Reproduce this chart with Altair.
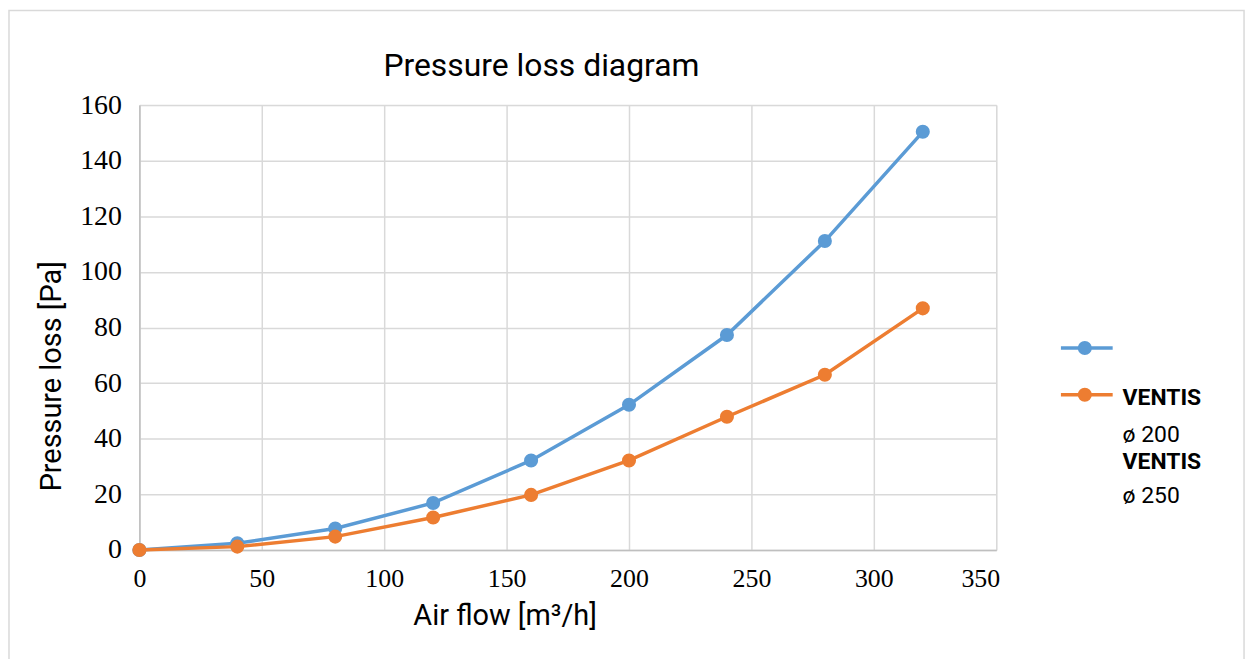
import altair as alt
import pandas as pd

# ---- data ----
airflow = [0, 40, 80, 120, 160, 200, 240, 280, 320]
loss_d200 = [0, 2.4, 7.7, 16.9, 32.2, 52.2, 77.3, 111.1, 150.4]
loss_d250 = [0, 1.2, 4.8, 11.7, 19.8, 32.2, 47.9, 63.0, 86.9]
series_names = ["VENTIS ø 200", "VENTIS ø 250"]
series_colors = ["#5B9BD5", "#ED7D31"]
x_ticks = [0, 50, 100, 150, 200, 250, 300, 350]
y_ticks = [0, 20, 40, 60, 80, 100, 120, 140, 160]
legend_words = ["VENTIS", "ø 200", "VENTIS", "ø 250"]
legend_bold = [True, False, True, False]
chart_title = "Pressure loss diagram"

rows = []
for name, vals in zip(series_names, [loss_d200, loss_d250]):
    for a, v in zip(airflow, vals):
        rows.append({"series": name, "airflow": a, "loss": v})
df = pd.DataFrame(rows)

W, H = 861, 447
GRID = "#d9d9d9"

color = alt.Color("series:N", scale=alt.Scale(domain=series_names, range=series_colors), legend=None)
x_enc = alt.X(
    "airflow:Q",
    scale=alt.Scale(domain=[0, 350], nice=False),
    axis=alt.Axis(
        values=x_ticks, title="Air flow [m³/h]", ticks=False, labelPadding=16,
        labelFlush=False,
        labelOffset=alt.condition("datum.value == 350", alt.value(-16), alt.value(0)),
        labelFont="Liberation Serif", labelFontSize=26, labelColor="#000",
        titleFont="Roboto", titleFontSize=29, titleFontWeight="normal", titleColor="#000",
        titleX=367, titleY=66, titleBaseline="middle", titleAlign="center",
        domainColor="#bfbfbf", domainWidth=1.5, gridColor=GRID, gridWidth=1.5,
    ),
)
y_enc = alt.Y(
    "loss:Q",
    scale=alt.Scale(domain=[0, 160], nice=False),
    axis=alt.Axis(
        values=y_ticks, title="Pressure loss [Pa]", ticks=False, labelPadding=18,
        labelFont="Liberation Serif", labelFontSize=28, labelColor="#000",
        titleFont="Roboto", titleFontSize=29, titleFontWeight="normal", titleColor="#000",
        titleX=-88, titleY=272, titleBaseline="middle", titleAlign="center", titleAngle=270,
        domainColor="#bfbfbf", domainWidth=1.5, gridColor=GRID, gridWidth=1.5,
    ),
)

base = alt.Chart(df)
layers = []
for name in series_names:
    sub = base.transform_filter(alt.datum.series == name)
    layers.append(sub.mark_line(strokeWidth=3.5).encode(x=x_enc, y=y_enc, color=color))
    layers.append(sub.mark_circle(size=200, opacity=1).encode(x=x_enc, y=y_enc, color=color))

# ---- manual legend (replicating the reference's layout) ----
leg_y = [244, 291]
for name, col, ly in zip(series_names, series_colors, leg_y):
    ldf = alt.Chart(pd.DataFrame({"series": [name]}))
    layers.append(ldf.mark_rule(strokeWidth=3.5, color=col).encode(
        x=alt.value(926), x2=alt.value(978), y=alt.value(ly)))
    layers.append(ldf.mark_circle(size=200, opacity=1, color=col).encode(
        x=alt.value(950), y=alt.value(ly)))

text_y = [294, 332, 359, 393]
for word, bold, ty in zip(legend_words, legend_bold, text_y):
    tdf = alt.Chart(pd.DataFrame({"label": [word]}))
    layers.append(tdf.mark_text(
        font="Roboto", fontSize=23, fontWeight="bold" if bold else "normal",
        align="left", baseline="middle", color="#000",
    ).encode(x=alt.value(988), y=alt.value(ty), text="label:N"))

# chart title
layers.append(alt.Chart(pd.DataFrame({"t": [chart_title]})).mark_text(
    font="Roboto", fontSize=32, align="center", baseline="middle", color="#000"
).encode(x=alt.value(404), y=alt.value(-39), text="t:N"))

# outer chart border
layers.append(alt.Chart(pd.DataFrame({"b": [0]})).mark_rect(
    fillOpacity=0, stroke="#d9d9d9", strokeWidth=1.5
).encode(x=alt.value(-131), x2=alt.value(1110), y=alt.value(-95), y2=alt.value(650)))

chart = alt.layer(*layers).properties(
    width=W, height=H,
    autosize=alt.AutoSizeParams(type="none"),
    padding={"left": 132, "top": 96, "right": 257, "bottom": 108},
).configure_view(stroke=None).configure(background="white")

chart.save("out.html", embed_options={"renderer": "svg", "actions": False})
